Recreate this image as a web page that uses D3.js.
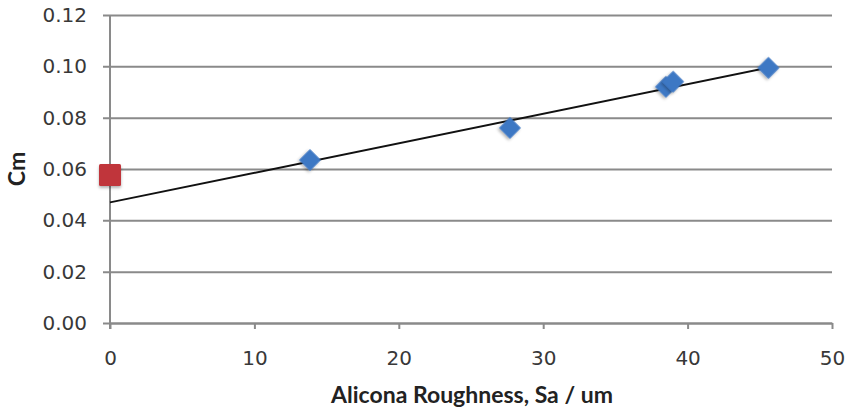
<!DOCTYPE html>
<html>
<head>
<meta charset="utf-8">
<script src="https://cdn.jsdelivr.net/npm/d3@7/dist/d3.min.js"></script>
<style>
  body { margin: 0; background: #fff; }
  svg { display: block; overflow: visible; }
  .tick text { font-family: "DejaVu Sans", sans-serif; font-size: 20px; fill: #383838; }
  .axis-title { font-family: "Lato", "Open Sans", sans-serif; font-weight: bold; fill: #222; }
</style>
</head>
<body>
<div id="chart"></div>
<script>
// measured values
const sampleX = [13.85, 27.7, 38.5, 39.0, 45.6];
const sampleY = [0.0635, 0.076, 0.092, 0.094, 0.0994];
const refX = [0];
const refY = [0.0577];
const trendX = [0, 45.6];
const trendY = [0.047, 0.0995];
const xTicks = [0, 10, 20, 30, 40, 50];
const yTicks = [0, 0.02, 0.04, 0.06, 0.08, 0.10, 0.12];

const width = 848, height = 411;
const margin = { top: 15, right: 16, bottom: 88, left: 110 };
const innerWidth = width - margin.left - margin.right;
const innerHeight = height - margin.top - margin.bottom;

const svg = d3.select("#chart").append("svg")
  .attr("width", width)
  .attr("height", height);

const defs = svg.append("defs");
const shadow = defs.append("filter").attr("id", "shadow")
  .attr("x", "-50%").attr("y", "-50%").attr("width", "200%").attr("height", "200%");
shadow.append("feDropShadow")
  .attr("dx", 0).attr("dy", 2).attr("stdDeviation", 1.5)
  .attr("flood-color", "#000").attr("flood-opacity", 0.3);

const g = svg.append("g").attr("transform", `translate(${margin.left},${margin.top})`);

const xScale = d3.scaleLinear().domain([0, 50]).range([0, innerWidth]);
const yScale = d3.scaleLinear().domain([0, 0.12]).range([innerHeight, 0]);

// y axis with gridlines
const yAxis = g.append("g").attr("class", "y-axis")
  .call(d3.axisLeft(yScale).tickValues(yTicks).tickFormat(d3.format(".2f"))
    .tickSize(-innerWidth - 7).tickPadding(23))
  .call((s) => s.select(".domain").remove());
yAxis.selectAll(".tick line")
  .attr("x1", -7).attr("x2", innerWidth)
  .attr("stroke", "#8a8a8a").attr("stroke-width", 2);

// vertical axis line
g.append("line")
  .attr("x1", 0).attr("x2", 0)
  .attr("y1", 0).attr("y2", innerHeight + 6)
  .attr("stroke", "#8a8a8a").attr("stroke-width", 2);

// x axis
const xAxis = g.append("g").attr("class", "x-axis")
  .attr("transform", `translate(0,${innerHeight})`)
  .call(d3.axisBottom(xScale).tickValues(xTicks).tickSize(6).tickPadding(22).tickSizeOuter(0));
xAxis.select(".domain").attr("stroke", "#8a8a8a").attr("stroke-width", 2);
xAxis.selectAll(".tick line").attr("stroke", "#8a8a8a").attr("stroke-width", 2);

// trend line
g.append("line")
  .attr("x1", xScale(trendX[0])).attr("y1", yScale(trendY[0]))
  .attr("x2", xScale(trendX[1])).attr("y2", yScale(trendY[1]))
  .attr("stroke", "#111").attr("stroke-width", 2);

// reference point (red square)
g.selectAll(".ref")
  .data(refX.map((x, i) => ({ x: x, y: refY[i] })))
  .enter()
  .append("rect")
  .attr("class", "ref")
  .attr("x", (d) => xScale(d.x) - 11)
  .attr("y", (d) => yScale(d.y) - 11)
  .attr("width", 22).attr("height", 22)
  .attr("rx", 1.5)
  .attr("fill", "#c0353a")
  .attr("filter", "url(#shadow)");

// samples (blue diamonds)
const diamond = d3.symbol().type(d3.symbolSquare).size(240);
g.selectAll(".sample")
  .data(sampleX.map((x, i) => ({ x: x, y: sampleY[i] })))
  .enter()
  .append("path")
  .attr("class", "sample")
  .attr("d", diamond)
  .attr("transform", (d) => `translate(${xScale(d.x)},${yScale(d.y)}) rotate(45)`)
  .attr("fill", "#3d78c4")
  .attr("filter", "url(#shadow)");

// axis titles
svg.append("text")
  .attr("class", "axis-title")
  .attr("x", 472).attr("y", 403)
  .attr("text-anchor", "middle")
  .style("font-size", "23px")
  .text("Alicona Roughness, Sa / um");

svg.append("text")
  .attr("class", "axis-title")
  .attr("transform", "translate(25,169) rotate(-90)")
  .attr("text-anchor", "middle")
  .style("font-size", "23px")
  .text("Cm");
</script>
</body>
</html>
